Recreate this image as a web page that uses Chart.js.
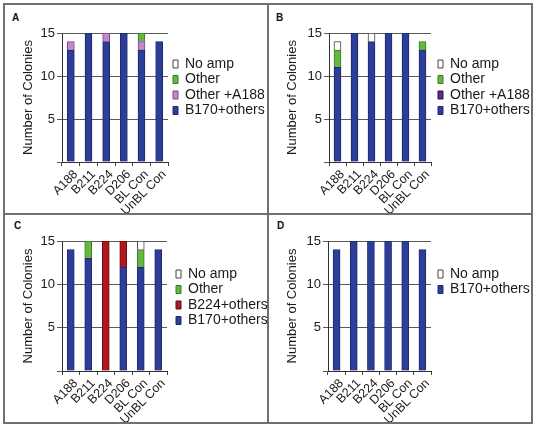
<!DOCTYPE html>
<html>
<head>
<meta charset="utf-8">
<script src="https://cdn.jsdelivr.net/npm/chart.js@4"></script>
<style>
  body { margin: 0; background: #fff; width: 537px; height: 427px; position: relative; overflow: hidden; }
  canvas { position: absolute; }
  .rule { position: absolute; background: #707070; }
  .tag { position: absolute; font: bold 10px "Liberation Sans", Arial, sans-serif; line-height: 10px; color: #111; }
</style>
</head>
<body>
<div class="rule" style="left:3px;top:3px;width:530px;height:2px"></div>
<div class="rule" style="left:3px;top:422px;width:530px;height:2px"></div>
<div class="rule" style="left:3px;top:3px;width:2px;height:421px"></div>
<div class="rule" style="left:531px;top:3px;width:2px;height:421px"></div>
<div class="rule" style="left:267px;top:3px;width:2px;height:421px"></div>
<div class="rule" style="left:3px;top:213px;width:530px;height:2px"></div>

<div class="tag" style="left:12px;top:13px">A</div>
<div class="tag" style="left:276px;top:13px">B</div>
<div class="tag" style="left:14px;top:221px">C</div>
<div class="tag" style="left:277px;top:221px">D</div>

<canvas id="chartA" width="261" height="207" style="left:6px;top:6px"></canvas>
<canvas id="chartB" width="261" height="207" style="left:270px;top:6px"></canvas>
<canvas id="chartC" width="261" height="206" style="left:6px;top:216px"></canvas>
<canvas id="chartD" width="261" height="206" style="left:270px;top:216px"></canvas>

<script>
// categories + axis
const categories = ['A188', 'B211', 'B224', 'D206', 'BL Con', 'UnBL Con'];
const yTicks = [0, 5, 10, 15];
const yTickLabels = ['', '5', '10', '15'];

// panel A
const aB170 = [13, 15, 14, 15, 13, 14];
const aOtherA188 = [1, 0, 1, 0, 1, 0];
const aOther = [0, 0, 0, 0, 1, 0];
const aNoAmp = [0, 0, 0, 0, 0, 0];

// panel B
const bB170 = [11, 15, 14, 15, 15, 13];
const bOtherA188 = [0, 0, 0, 0, 0, 0];
const bOther = [2, 0, 0, 0, 0, 1];
const bNoAmp = [1, 0, 1, 0, 0, 0];

// panel C
const cB170 = [14, 13, 0, 12, 12, 14];
const cB224 = [0, 0, 15, 3, 0, 0];
const cOther = [0, 2, 0, 0, 2, 0];
const cNoAmp = [0, 0, 0, 0, 1, 0];

// panel D
const dB170 = [14, 15, 15, 15, 15, 14];
const dNoAmp = [0, 0, 0, 0, 0, 0];

const FONT = '"Liberation Sans", Arial, sans-serif';
const TEXT = '#1a1a1a';

const colors = {
    b170: ['#2c3e98', '#1d2a6e'],
    otherA188: ['#c886cb', '#7a4a7e'],
    otherA188B: ['#5a2c8a', '#2c1245'],
    other: ['#62b93e', '#3a7a22'],
    noAmp: ['#ffffff', '#444444'],
    b224: ['#b3171c', '#6a0c10']
};

// empty segments are left out so they don't leave a hairline on top of the bar
function ds(label, data, c) {
    return { label: label, data: data.map(v => v === 0 ? null : v), backgroundColor: c[0], borderColor: c[1] };
}

// moves the legend next to the plot (after Chart.js has laid it out)
const legendShift = {
    id: 'legendShift',
    afterLayout(chart) {
        const o = chart.options.plugins.legendShift;
        const lg = chart.legend;
        const pad = lg.options.labels.padding;
        const w = lg.right - lg.left, h = lg.bottom - lg.top;
        lg.left = o.x - pad;
        lg.right = lg.left + w;
        lg.top = o.y - pad - lg.options.labels.font.size / 2;
        lg.bottom = lg.top + h;
    }
};

function panel(id, canvasBox, plot, legendPos, datasets) {
    const ctx = document.getElementById(id);
    return new Chart(ctx, {
        type: 'bar',
        data: { labels: categories, datasets: datasets },
        options: {
            responsive: false,
            animation: false,
            events: [],
            layout: { padding: { top: plot.top - canvasBox.y, left: 0, right: 0, bottom: 0 } },
            datasets: {
                bar: {
                    barThickness: 7,
                    borderWidth: 1
                }
            },
            scales: {
                x: {
                    stacked: true,
                    grid: { offset: true, drawOnChartArea: false, tickLength: 4, color: '#444' },
                    border: { color: '#333', width: 1 },
                    ticks: {
                        autoSkip: false,
                        minRotation: 45,
                        maxRotation: 45,
                        padding: 1,
                        labelOffset: 5,
                        color: TEXT,
                        font: { family: FONT, size: 12.5 }
                    },
                    afterFit: s => { s.height = canvasBox.y + canvasBox.h - plot.bottom; }
                },
                y: {
                    stacked: true,
                    min: 0,
                    max: 15,
                    afterBuildTicks: s => { s.ticks = yTicks.map(v => ({ value: v })); },
                    grid: { color: '#5a5a5a', tickLength: 5 },
                    border: { color: '#333', width: 1 },
                    ticks: {
                        padding: 2,
                        color: TEXT,
                        font: { family: FONT, size: 13 },
                        callback: (v, i) => yTickLabels[i]
                    },
                    title: {
                        display: true,
                        text: 'Number of Colonies',
                        color: TEXT,
                        font: { family: FONT, size: 13 },
                        padding: { top: 15, bottom: 0 }
                    },
                    afterFit: s => { s.width = plot.left - canvasBox.x; }
                }
            },
            plugins: {
                legend: {
                    position: 'right',
                    align: 'start',
                    fullSize: false,
                    reverse: true,
                    maxWidth: canvasBox.x + canvasBox.w - plot.right,
                    labels: {
                        boxWidth: 5,
                        boxHeight: 8,
                        padding: 1.5,
                        color: TEXT,
                        font: { family: FONT, size: 14 }
                    }
                },
                legendShift: { x: legendPos.x - canvasBox.x, y: legendPos.y - canvasBox.y },
                tooltip: { enabled: false }
            }
        },
        plugins: [legendShift]
    });
}

panel('chartA', { x: 6, y: 6, w: 261, h: 207 }, { left: 62, right: 168, top: 33, bottom: 162 }, { x: 173, y: 64 }, [
    ds('B170+others', aB170, colors.b170),
    ds('Other +A188', aOtherA188, colors.otherA188),
    ds('Other', aOther, colors.other),
    ds('No amp', aNoAmp, colors.noAmp)
]);

panel('chartB', { x: 270, y: 6, w: 261, h: 207 }, { left: 329, right: 431, top: 33, bottom: 162 }, { x: 438, y: 64 }, [
    ds('B170+others', bB170, colors.b170),
    ds('Other +A188', bOtherA188, colors.otherA188B),
    ds('Other', bOther, colors.other),
    ds('No amp', bNoAmp, colors.noAmp)
]);

panel('chartC', { x: 6, y: 216, w: 261, h: 206 }, { left: 62, right: 167, top: 241, bottom: 371 }, { x: 176, y: 274 }, [
    ds('B170+others', cB170, colors.b170),
    ds('B224+others', cB224, colors.b224),
    ds('Other', cOther, colors.other),
    ds('No amp', cNoAmp, colors.noAmp)
]);

panel('chartD', { x: 270, y: 216, w: 261, h: 206 }, { left: 328, right: 431, top: 241, bottom: 371 }, { x: 438, y: 274 }, [
    ds('B170+others', dB170, colors.b170),
    ds('No amp', dNoAmp, colors.noAmp)
]);
</script>
</body>
</html>
